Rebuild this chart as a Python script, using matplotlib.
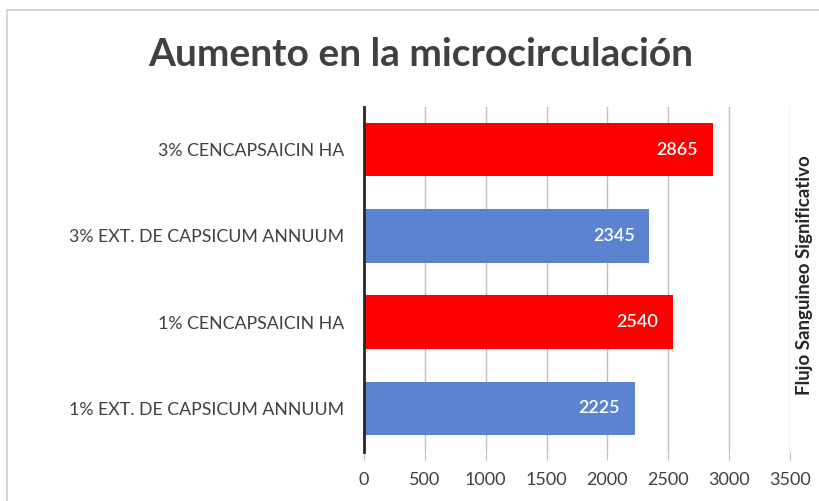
import matplotlib
matplotlib.use("Agg")
import matplotlib.pyplot as plt
from matplotlib.patches import Rectangle

categories = ["1% EXT. DE CAPSICUM ANNUUM", "1% CENCAPSAICIN HA",
              "3% EXT. DE CAPSICUM ANNUUM", "3% CENCAPSAICIN HA"]
values = [2225, 2540, 2345, 2865]
colors = ["#5B83D0", "#FF0000", "#5B83D0", "#FF0000"]
xticks = [0, 500, 1000, 1500, 2000, 2500, 3000, 3500]
title = "Aumento en la microcirculación"
side_label = "Flujo Sanguineo Significativo"

plt.rcParams['font.family'] = ['Lato', 'DejaVu Sans']

W, H = 820, 501
fig = plt.figure(figsize=(W / 100, H / 100), dpi=100)
fig.patches.append(Rectangle((7 / W, -0.1), 1.2, 1.1 - 10 / H, transform=fig.transFigure,
                             fill=False, edgecolor="#D0D0D0", linewidth=1.2))

ax = fig.add_axes([364 / W, 1 - 451.5 / H, (790 - 364) / W, (451.5 - 106.5) / H])
y = list(range(len(categories)))
bars = ax.barh(y, values, height=0.62, color=colors, zorder=3)
ax.set_xlim(0, 3500)
ax.set_ylim(-0.5, len(categories) - 0.5)
ax.set_yticks(y)
ax.set_yticklabels(categories, fontsize=12.8, color="#404040")
ax.set_xticks(xticks)
ax.set_xticklabels([str(t) for t in xticks], fontsize=13, color="#404040")
ax.tick_params(axis="y", length=0, pad=14)
ax.tick_params(axis="x", length=6, color="#BFBFBF", pad=9)
ax.grid(axis="x", color="#BFBFBF", linewidth=1, zorder=0)
for s in ["top", "right", "bottom"]:
    ax.spines[s].set_visible(False)
ax.spines["left"].set_color("#262626")
ax.spines["left"].set_linewidth(2)
ax.spines["left"].set_zorder(4)

for b, v in zip(bars, values):
    ax.text(v - 120, b.get_y() + b.get_height() / 2, str(v), ha="right", va="center",
            color="white", fontsize=13, fontweight="semibold", zorder=5)

fig.text(421 / W, 1 - 55 / H, title, ha="center", va="center", fontsize=28,
         fontweight="bold", color="#404040")
fig.text(805 / W, 1 - 275 / H, side_label, ha="center", va="center", rotation=90,
         fontsize=13.5, fontweight="bold", color="#262626")

fig.savefig("out.png", dpi=100)
